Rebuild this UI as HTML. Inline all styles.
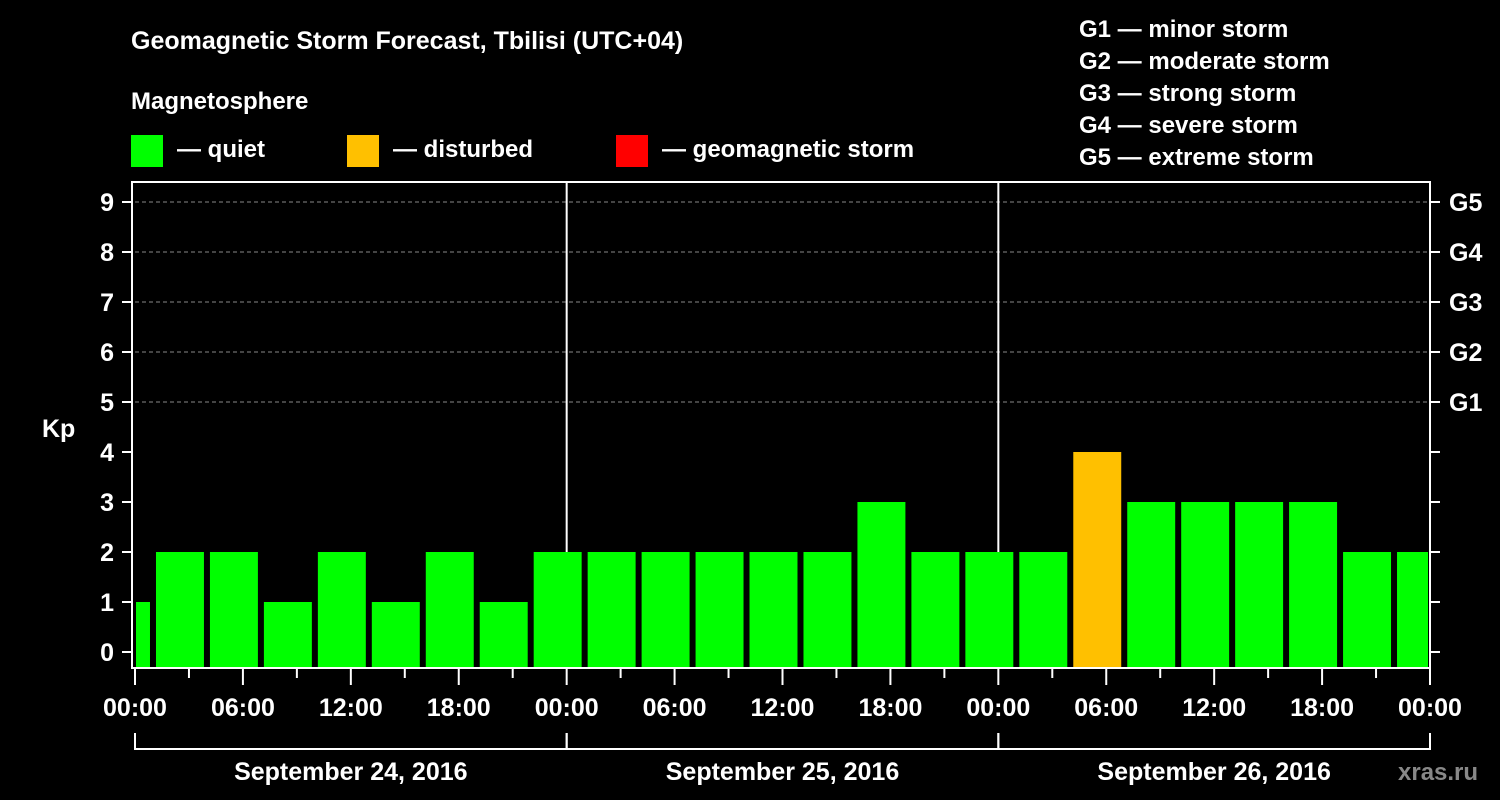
<!DOCTYPE html>
<html><head><meta charset="utf-8"><style>
body{margin:0;background:#000;}
svg{display:block;font-family:"Liberation Sans",Arial,sans-serif;font-weight:bold;}
</style></head><body>
<svg id="chart" width="1500" height="800" viewBox="0 0 1500 800" xmlns="http://www.w3.org/2000/svg">
<rect width="1500" height="800" fill="#000"/>
<text x="131" y="49" fill="#fff" font-size="25">Geomagnetic Storm Forecast, Tbilisi (UTC+04)</text>
<text x="131" y="109" fill="#fff" font-size="24">Magnetosphere</text>
<g><rect x="131" y="135" width="32" height="32" fill="#00ff00"/><text x="177" y="157" fill="#fff" font-size="24">— quiet</text></g>
<g><rect x="347" y="135" width="32" height="32" fill="#ffc000"/><text x="393" y="157" fill="#fff" font-size="24">— disturbed</text></g>
<g><rect x="616" y="135" width="32" height="32" fill="#ff0000"/><text x="662" y="157" fill="#fff" font-size="24">— geomagnetic storm</text></g>
<g fill="#fff" font-size="24">
<text x="1079" y="37">G1 — minor storm</text>
<text x="1079" y="69">G2 — moderate storm</text>
<text x="1079" y="101">G3 — strong storm</text>
<text x="1079" y="133">G4 — severe storm</text>
<text x="1079" y="165">G5 — extreme storm</text>
</g>
<text x="42" y="437" fill="#fff" font-size="25">Kp</text>
<text x="1398" y="780" fill="#888" font-size="24">xras.ru</text>
<g id="grid"></g><g id="bars"></g><g id="axes"></g>
</svg>
<script>
const kpValues=[1,2,2,1,2,1,2,1,2,2,2,2,2,2,3,2,2,2,4,3,3,3,3,2,2];
const yTicks=[0,1,2,3,4,5,6,7,8,9];
const gLabels=["G1","G2","G3","G4","G5"];
const xLabels=["00:00","06:00","12:00","18:00","00:00","06:00","12:00","18:00","00:00","06:00","12:00","18:00","00:00"];
const dayLabels=["September 24, 2016","September 25, 2016","September 26, 2016"];
const firstBinStartHour=-2, binHours=3, totalHours=72;
const L=135,R=1430,T=182,B=668;
const NS="http://www.w3.org/2000/svg";
const x=h=>L+h*(R-L)/totalHours;
const y=v=>652-v*50;
function mk(tag,attrs,parent,txt){const e=document.createElementNS(NS,tag);for(const k in attrs)e.setAttribute(k,attrs[k]);if(txt!==undefined)e.textContent=txt;document.getElementById(parent).appendChild(e);return e;}
const color=v=>v>=5?"#ff0000":(v>=4?"#ffc000":"#00ff00");
// grid
yTicks.forEach(v=>{if(v>=5){const g=mk('line',{x1:L,x2:R,y1:y(v),y2:y(v),stroke:'#888','stroke-dasharray':'4,3','stroke-width':1},'grid');

}});
[1,2].forEach(d=>{const l=mk('line',{x1:x(d*24),x2:x(d*24),y1:T,y2:B,stroke:'#fff','stroke-width':2},'grid');

});
// bars
kpValues.forEach((v,i)=>{let s=firstBinStartHour+i*binHours,e=s+binHours;
let x0=x(s)+3,x1=x(e)-3;x0=Math.max(x0,L+1);x1=Math.min(x1,R-2);
const r=mk('rect',{x:x0,y:y(v),width:x1-x0,height:B-y(v),fill:color(v)},'bars');

});
// frame
const f=mk('rect',{x:132,y:T,width:R-132,height:B-T,fill:'none',stroke:'#fff','stroke-width':2},'axes');


yTicks.forEach(v=>{mk('line',{x1:122,x2:132,y1:y(v),y2:y(v),stroke:'#fff','stroke-width':2},'axes');
mk('line',{x1:R,x2:R+10,y1:y(v),y2:y(v),stroke:'#fff','stroke-width':2},'axes');
const t=mk('text',{x:114,y:y(v)+9,fill:'#fff','font-size':25,'text-anchor':'end'},'axes',v);

});
gLabels.forEach((g,i)=>{const t=mk('text',{x:1449,y:y(5+i)+9,fill:'#fff','font-size':25},'axes',g);

});
for(let h=0;h<=totalHours;h+=3){mk('line',{x1:x(h),x2:x(h),y1:B,y2:h%6===0?685:678,stroke:'#fff','stroke-width':2},'axes');}
xLabels.forEach((s,i)=>{const t=mk('text',{x:x(i*6),y:716,fill:'#fff','font-size':25,'text-anchor':'middle'},'axes',s);

});
dayLabels.forEach((s,i)=>{mk('path',{d:`M${x(i*24)},733V749H${x(i*24+24)}V733`,fill:'none',stroke:'#fff','stroke-width':2},'axes');
const t=mk('text',{x:x(i*24+12),y:780,fill:'#fff','font-size':25,'text-anchor':'middle'},'axes',s);

});
</script>
</body></html>
